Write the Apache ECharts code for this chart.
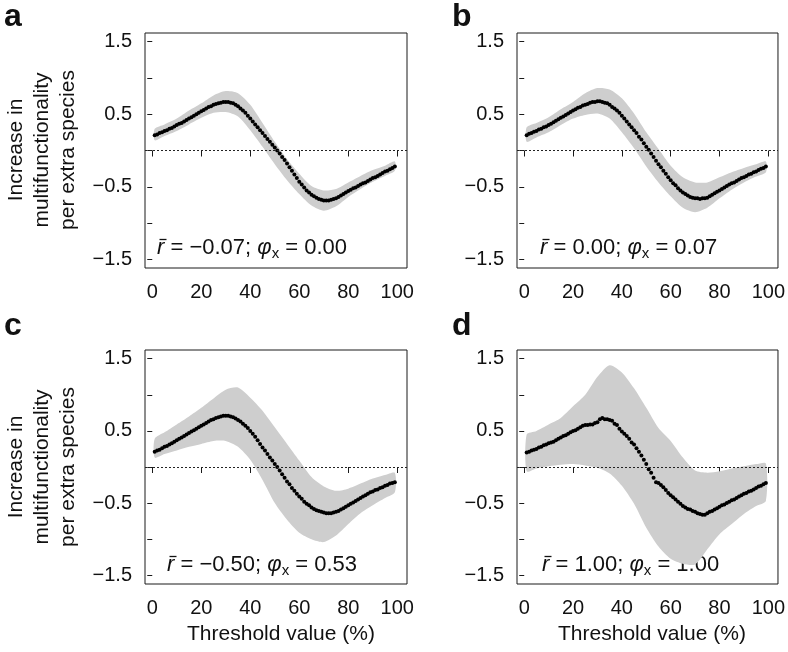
<!DOCTYPE html>
<html><head><meta charset="utf-8">
<script src="https://cdn.jsdelivr.net/npm/echarts@6/dist/echarts.min.js"></script>
<style>html,body{margin:0;padding:0;background:#fff}#c{width:788px;height:652px}</style>
</head><body><div id="c"></div>
<script>
const thresholds = [1,2,3,4,5,6,7,8,9,10,11,12,13,14,15,16,17,18,19,20,21,22,23,24,25,26,27,28,29,30,31,32,33,34,35,36,37,38,39,40,41,42,43,44,45,46,47,48,49,50,51,52,53,54,55,56,57,58,59,60,61,62,63,64,65,66,67,68,69,70,71,72,73,74,75,76,77,78,79,80,81,82,83,84,85,86,87,88,89,90,91,92,93,94,95,96,97,98,99];
const bandX = [1,5,10,15,20,25,30,35,40,45,50,55,60,65,70,75,80,85,90,95,99];
const xTicks = [0,20,40,60,80,100];
const yTicks = [-1.5,-1,-0.5,0,0.5,1,1.5];
const yLabels = [-1.5,-0.5,0.5,1.5];

const meanA = [0.21,0.22,0.24,0.25,0.27,0.28,0.30,0.31,0.33,0.35,0.37,0.38,0.40,0.42,0.44,0.46,0.48,0.50,0.52,0.54,0.56,0.58,0.60,0.61,0.63,0.64,0.65,0.66,0.67,0.67,0.67,0.66,0.65,0.63,0.61,0.58,0.55,0.52,0.48,0.44,0.40,0.36,0.32,0.28,0.24,0.20,0.16,0.12,0.08,0.04,0.00,-0.04,-0.09,-0.13,-0.18,-0.23,-0.28,-0.33,-0.38,-0.43,-0.47,-0.51,-0.55,-0.58,-0.61,-0.63,-0.65,-0.67,-0.68,-0.69,-0.69,-0.69,-0.68,-0.67,-0.66,-0.64,-0.62,-0.60,-0.58,-0.56,-0.54,-0.52,-0.51,-0.49,-0.47,-0.45,-0.44,-0.42,-0.40,-0.38,-0.37,-0.35,-0.33,-0.31,-0.29,-0.28,-0.26,-0.24,-0.22];
const upperA = [0.30,0.36,0.44,0.55,0.65,0.76,0.82,0.79,0.63,0.38,0.12,-0.12,-0.32,-0.49,-0.55,-0.53,-0.44,-0.35,-0.27,-0.21,-0.15];
const lowerA = [0.14,0.20,0.27,0.36,0.45,0.52,0.53,0.47,0.28,0.05,-0.19,-0.41,-0.60,-0.76,-0.83,-0.77,-0.64,-0.53,-0.43,-0.35,-0.28];

const meanB = [0.21,0.23,0.24,0.26,0.27,0.29,0.30,0.32,0.33,0.35,0.37,0.39,0.41,0.43,0.45,0.47,0.49,0.51,0.53,0.55,0.57,0.59,0.60,0.62,0.63,0.64,0.66,0.67,0.67,0.68,0.68,0.67,0.66,0.65,0.63,0.60,0.58,0.55,0.52,0.48,0.44,0.40,0.36,0.32,0.28,0.24,0.19,0.15,0.10,0.05,0.01,-0.04,-0.09,-0.14,-0.19,-0.23,-0.28,-0.32,-0.37,-0.41,-0.45,-0.48,-0.52,-0.55,-0.58,-0.60,-0.62,-0.64,-0.65,-0.66,-0.66,-0.67,-0.66,-0.66,-0.65,-0.63,-0.61,-0.59,-0.57,-0.55,-0.53,-0.51,-0.49,-0.47,-0.45,-0.44,-0.42,-0.40,-0.38,-0.37,-0.35,-0.33,-0.32,-0.30,-0.29,-0.27,-0.25,-0.24,-0.22];
const upperB = [0.32,0.38,0.46,0.57,0.67,0.79,0.86,0.84,0.72,0.51,0.25,0.02,-0.21,-0.37,-0.44,-0.44,-0.37,-0.30,-0.24,-0.19,-0.15];
const lowerB = [0.12,0.18,0.25,0.35,0.44,0.49,0.51,0.44,0.25,0.03,-0.22,-0.44,-0.63,-0.79,-0.85,-0.79,-0.66,-0.54,-0.44,-0.36,-0.30];

const meanC = [0.21,0.23,0.24,0.26,0.28,0.29,0.31,0.33,0.35,0.37,0.39,0.41,0.43,0.45,0.47,0.49,0.51,0.53,0.55,0.57,0.59,0.61,0.63,0.65,0.66,0.68,0.69,0.70,0.71,0.71,0.71,0.70,0.69,0.67,0.65,0.63,0.60,0.57,0.54,0.50,0.46,0.42,0.37,0.32,0.27,0.23,0.18,0.13,0.09,0.04,0.00,-0.05,-0.10,-0.15,-0.20,-0.24,-0.29,-0.33,-0.37,-0.41,-0.44,-0.48,-0.51,-0.53,-0.56,-0.58,-0.60,-0.61,-0.62,-0.63,-0.64,-0.64,-0.64,-0.63,-0.62,-0.61,-0.59,-0.57,-0.55,-0.53,-0.51,-0.49,-0.47,-0.45,-0.43,-0.41,-0.39,-0.37,-0.35,-0.34,-0.32,-0.31,-0.29,-0.28,-0.26,-0.25,-0.23,-0.22,-0.21];
const upperC = [0.39,0.48,0.59,0.70,0.82,0.95,1.07,1.10,0.96,0.78,0.55,0.32,0.09,-0.14,-0.27,-0.33,-0.30,-0.23,-0.16,-0.11,-0.08];
const lowerC = [0.13,0.18,0.23,0.28,0.32,0.36,0.36,0.28,0.10,-0.18,-0.50,-0.73,-0.91,-1.00,-1.04,-0.95,-0.79,-0.64,-0.53,-0.43,-0.35];

const meanD = [0.20,0.21,0.23,0.24,0.25,0.27,0.28,0.30,0.31,0.33,0.34,0.35,0.37,0.39,0.41,0.43,0.44,0.46,0.48,0.50,0.51,0.53,0.55,0.57,0.58,0.58,0.59,0.59,0.61,0.62,0.66,0.68,0.66,0.66,0.65,0.64,0.60,0.58,0.53,0.49,0.46,0.43,0.39,0.34,0.31,0.26,0.21,0.16,0.10,0.04,-0.03,-0.08,-0.15,-0.21,-0.22,-0.25,-0.28,-0.32,-0.36,-0.39,-0.42,-0.45,-0.48,-0.51,-0.54,-0.56,-0.58,-0.59,-0.61,-0.62,-0.64,-0.65,-0.66,-0.66,-0.64,-0.62,-0.61,-0.59,-0.57,-0.55,-0.53,-0.52,-0.50,-0.48,-0.46,-0.45,-0.43,-0.41,-0.39,-0.37,-0.36,-0.34,-0.33,-0.31,-0.29,-0.27,-0.26,-0.24,-0.22];
const upperD = [0.45,0.50,0.59,0.68,0.84,1.00,1.25,1.41,1.31,1.09,0.82,0.54,0.36,0.13,-0.05,-0.08,-0.06,-0.02,0.01,0.04,0.05];
const lowerD = [-0.06,-0.02,0.01,0.03,0.04,0.02,-0.01,-0.09,-0.26,-0.51,-0.84,-1.10,-1.27,-1.34,-1.35,-1.14,-0.93,-0.79,-0.65,-0.54,-0.47];

const panelLetters = ['a','b','c','d'];
const rBar = ['\u22120.07','0.00','\u22120.50','1.00'];
const phiX = ['0.00','0.07','0.53','1.00'];
const yTitle = 'Increase in\nmultifunctionality\nper extra species';
const xTitle = 'Threshold value (%)';

const FONT = '"Liberation Sans", Arial, Helvetica, sans-serif';
const grids = [
  {left:145, top:33, width:262, height:235},
  {left:517, top:33, width:261, height:235},
  {left:145, top:350, width:262, height:234},
  {left:517, top:350, width:261, height:234}
];
const panels = [[meanA,upperA,lowerA],[meanB,upperB,lowerB],[meanC,upperC,lowerC],[meanD,upperD,lowerD]];

const option = {
  animation:false,
  backgroundColor:'#fff',
  grid: grids.map(g => Object.assign({show:true, borderColor:'#1a1a1a', borderWidth:1, backgroundColor:'transparent', containLabel:false}, g)),
  xAxis: grids.map((g,i) => ({
    gridIndex:i, type:'value', min:-2.96, max:103.96,
    axisLine:{show:false},
    splitLine:{show:false},
    axisTick:{show:true, inside:false, length:6, lineStyle:{color:'#1a1a1a', width:1}, customValues:xTicks},
    axisLabel:{show:true, margin:14, fontSize:20, color:'#111', fontFamily:FONT, customValues:xTicks}
  })),
  yAxis: grids.map((g,i) => ({
    gridIndex:i, type:'value', min:-1.62, max:1.62,
    axisLine:{show:false},
    splitLine:{show:false},
    axisTick:{show:true, inside:false, length:5, lineStyle:{color:'#1a1a1a', width:1}, customValues:yTicks},
    axisLabel:{show:true, margin:13, fontSize:20, color:'#111', fontFamily:FONT, customValues:yLabels,
      formatter: v => String(v).replace('-', '\u2212')}
  })),
  series: [],
  graphic: []
};

panels.forEach((p,i) => {
  const [mean, upper, lower] = p;
  option.series.push({
    type:'custom', xAxisIndex:i, yAxisIndex:i, silent:true, clip:false, z:1,
    data:[[0]],
    renderItem: (params, api) => {
      const top = bandX.map((x,k) => api.coord([x, upper[k]]));
      const bot = bandX.map((x,k) => api.coord([x, lower[k]])).reverse();
      return {type:'polygon', shape:{points: top.concat(bot), smooth:0.25}, style:{fill:'#cecece', stroke:null}};
    }
  });
  option.series.push({
    type:'scatter', xAxisIndex:i, yAxisIndex:i, silent:true,
    data: thresholds.map((x,k)=>[x, mean[k]]), symbol:'circle', symbolSize:4,
    itemStyle:{color:'#000', opacity:1}, z:3,
    markLine:{silent:true, symbol:['none','none'], label:{show:false}, animation:false,
      lineStyle:{color:'#222', type:[2,2], width:1}, data:[{yAxis:0}]}
  });
});

const letterPos = [[4,17],[452,17],[4,326],[452,326]];
letterPos.forEach((pos,i) => {
  option.graphic.push({type:'text', x:pos[0], y:pos[1], silent:true,
    style:{text:panelLetters[i], font:'bold 32px '+FONT, fill:'#111', align:'left', verticalAlign:'middle'}});
});

const annPos = [[157,248],[540,248],[167,565],[542,565]];
annPos.forEach((pos,i) => {
  option.graphic.push({type:'group', x:pos[0], y:pos[1], silent:true, z:10, children:[
    {type:'text', x:0, y:0, silent:true,
      style:{
        text:'{i|r} = ' + rBar[i] + '; {i|\u03c6}{s|x} = ' + phiX[i],
        font:'22px '+FONT, fill:'#111', align:'left', verticalAlign:'middle', lineHeight:26,
        rich:{
          i:{fontStyle:'italic', fontSize:22, fontFamily:FONT, fill:'#111', lineHeight:26},
          s:{fontSize:15, fontFamily:FONT, fill:'#111', lineHeight:13, verticalAlign:'bottom'}
        }
      }},
    {type:'line', silent:true, shape:{x1:2.5, y1:-8.5, x2:9.5, y2:-8.5}, style:{stroke:'#111', lineWidth:1.3}}
  ]});
});

[[42,150],[42,467]].forEach(pos => {
  option.graphic.push({type:'text', x:pos[0], y:pos[1], rotation:Math.PI/2, silent:true,
    style:{text:yTitle, font:'21px '+FONT, fill:'#111', align:'center', verticalAlign:'middle', lineHeight:26}});
});
[[281,634],[652,634]].forEach(pos => {
  option.graphic.push({type:'text', x:pos[0], y:pos[1], silent:true,
    style:{text:xTitle, font:'21px '+FONT, fill:'#111', align:'center', verticalAlign:'middle'}});
});

const chart = echarts.init(document.getElementById('c'), null, {renderer:'canvas'});
chart.setOption(option);
</script>
</body></html>
